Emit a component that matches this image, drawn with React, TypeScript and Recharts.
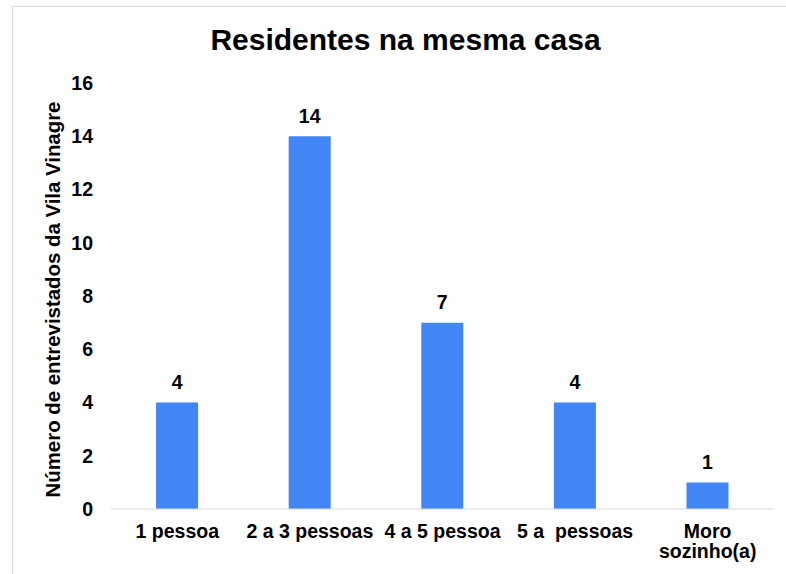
import { BarChart, Bar, XAxis, YAxis, LabelList } from 'recharts';

const categories = ['1 pessoa', '2 a 3 pessoas', '4 a 5 pessoa', '5 a  pessoas', 'Moro\nsozinho(a)'];
const residentes = [4, 14, 7, 4, 1];
const yTicks = [0, 2, 4, 6, 8, 10, 12, 14, 16];

const data = categories.map((name, i) => ({ name, value: residentes[i] }));

const FONT = 'Arial, "Liberation Sans", sans-serif';
const TEXT_SIZE = 19.5;

const CategoryTick = ({ x, y, payload }: any) => {
    const lines = String(payload.value).split('\n');
    return (
        <text
            x={x}
            y={y}
            textAnchor="middle"
            fill="#000"
            fontFamily={FONT}
            fontWeight="bold"
            fontSize={TEXT_SIZE}
            style={{ whiteSpace: 'pre' }}
        >
            {lines.map((line, i) => (
                <tspan key={i} x={x} dy={i === 0 ? '0.71em' : 20}>
                    {line}
                </tspan>
            ))}
        </text>
    );
};

const AxisTitle = ({ viewBox }: any) => {
    const cx = 52.5;
    const cy = viewBox.y + viewBox.height / 2 + 3.5;
    return (
        <text
            x={cx}
            y={cy}
            transform={`rotate(-90 ${cx} ${cy})`}
            textAnchor="middle"
            dominantBaseline="central"
            fontFamily={FONT}
            fontWeight="bold"
            fontSize={20.4}
            fill="#000"
        >
            Número de entrevistados da Vila Vinagre
        </text>
    );
};

export default function App() {
    return (
        <div style={{ position: 'absolute', left: 0, top: 0, width: 786, height: 574, background: '#fff' }}>
            {/* frame lines */}
            <div style={{ position: 'absolute', left: 12, top: 6, right: 0, height: 1, background: '#d9d9d9' }} />
            <div style={{ position: 'absolute', left: 12, top: 6, bottom: 0, width: 1, background: '#d9d9d9' }} />

            <div
                style={{
                    position: 'absolute',
                    left: 25,
                    right: 0,
                    top: 25,
                    lineHeight: '30px',
                    textAlign: 'center',
                    fontFamily: FONT,
                    fontWeight: 'bold',
                    fontSize: 30,
                    color: '#000',
                    whiteSpace: 'nowrap',
                }}
            >
                Residentes na mesma casa
            </div>

            <BarChart
                width={786}
                height={574}
                data={data}
                margin={{ top: 83, right: 12, bottom: 35, left: 50 }}
                barCategoryGap="34%"
            >
                <XAxis
                    dataKey="name"
                    tickLine={false}
                    axisLine={{ stroke: '#d9d9d9', strokeWidth: 1 }}
                    tickMargin={9}
                    interval={0}
                    tick={<CategoryTick />}
                />
                <YAxis
                    width={61}
                    domain={[0, 16]}
                    ticks={yTicks}
                    interval={0}
                    axisLine={false}
                    tickLine={false}
                    tickMargin={12}
                    tick={{ fill: '#000', fontFamily: FONT, fontWeight: 'bold', fontSize: TEXT_SIZE }}
                    label={{ content: <AxisTitle /> }}
                />
                <Bar dataKey="value" fill="#4285f4" isAnimationActive={false}>
                    <LabelList
                        dataKey="value"
                        position="top"
                        offset={13.5}
                        fill="#000"
                        fontFamily={FONT}
                        fontWeight="bold"
                        fontSize={TEXT_SIZE}
                    />
                </Bar>
            </BarChart>
        </div>
    );
}
